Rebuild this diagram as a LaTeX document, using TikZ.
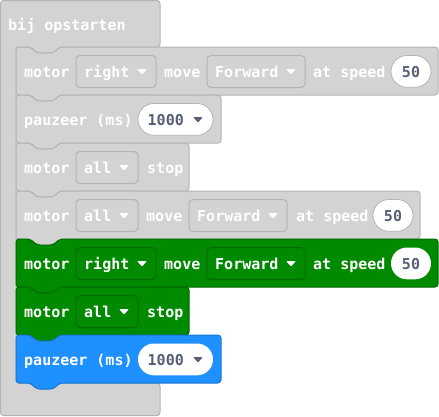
\documentclass[tikz,border=0pt]{standalone}
\usepackage{fontspec}
\newfontfamily\monof{DejaVu Sans Mono}
\definecolor{gfill}{HTML}{D3D3D3}
\definecolor{gline}{HTML}{B4B4B4}
\definecolor{grfill}{HTML}{008A00}
\definecolor{grline}{HTML}{006A00}
\definecolor{blfill}{HTML}{1E90FF}
\definecolor{blline}{HTML}{1A78D6}
\definecolor{numtxt}{HTML}{575E75}
\tikzset{
  lbl/.style={anchor=base west, inner sep=0pt, text=white, font=\monof\bfseries\fontsize{15}{18}\selectfont},
  numl/.style={lbl, text=numtxt},
  grayblk/.style={fill=gfill, draw=gline, line width=1pt, rounded corners=3pt},
  greenblk/.style={fill=grfill, draw=grline, line width=1pt, rounded corners=3pt},
  blueblk/.style={fill=blfill, draw=blline, line width=1pt, rounded corners=3pt},
  graydd/.style={fill=gfill, draw=gline, line width=1pt, rounded corners=4pt},
  greendd/.style={fill=grfill, draw=grline, line width=1pt, rounded corners=4pt},
  grayov/.style={fill=white, draw=gline, line width=0.8pt, rounded corners=15.9pt},
  plainov/.style={fill=white, draw=none, rounded corners=15.9pt},
}
% block: style, top, bottom, right
\newcommand\mkblock[4]{%
  \path[#1] (16,#2+20) -- (16,#2) -- (30,#2) -- (37,#2+6) -- (53,#2+6) -- (60,#2)
    -- (#4,#2) -- (#4,#3) -- (60,#3) -- (53,#3+6) -- (37,#3+6) -- (30,#3)
    -- (16,#3) -- cycle;}
% dropdown: name, x1, x2, centre, text, style
\newcommand\mkdd[6]{%
  \path[#6] (#2,#4-15.5) rectangle (#3,#4+16.5);
  \node[lbl] (#1) at (#2+8,#4+6.5) {#5};
  \fill[white, rounded corners=1pt] (#3-19,#4-2) -- (#3-9,#4-2) -- (#3-14,#4+3.5) -- cycle;}
% number oval: name, x1, x2, centre, text, style
\newcommand\mkov[6]{%
  \path[#6] (#2,#4-15.5) rectangle (#3,#4+16.3);
  \node[numl, anchor=base] (#1) at ({(#2+#3)/2},#4+6.5) {#5};}
% number oval with arrow: name, x1, x2, centre, text, style
\newcommand\mkova[6]{%
  \path[#6] (#2,#4-15.5) rectangle (#3,#4+16.3);
  \node[numl] (#1) at (#2+9.5,#4+6.5) {#5};
  \fill[numtxt, rounded corners=1pt] (#3-20,#4-2) -- (#3-10,#4-2) -- (#3-15,#4+3.5) -- cycle;}
\begin{document}
\begin{tikzpicture}[x=1pt,y=-1pt]
\useasboundingbox (0,0) rectangle (439,416);
% hat / C block
\path[grayblk] (0.5,20) -- (0.5,0.5) -- (160,0.5) -- (160,47) -- (60,47) -- (53,53) -- (37,53) -- (30,47)
  -- (16,47) -- (16,383) -- (30,383) -- (37,389) -- (53,389) -- (60,383) -- (160,383)
  -- (160,415.5) -- (0.5,415.5) -- cycle;
\node[lbl] (hat) at (8,30) {bij opstarten};

% block 1
\mkblock{grayblk}{47}{95}{438}
\node[lbl] (m1) at (24,77.5) {motor};
\mkdd{d1}{76}{156}{71}{right}{graydd}
\node[lbl] (mv1) at (164,77.5) {move};
\mkdd{f1}{207}{305}{71}{Forward}{graydd}
\node[lbl] (s1) at (313,77.5) {at speed};
\mkov{n1}{391}{431}{71}{50}{grayov}

% block 2
\mkblock{grayblk}{95}{143}{221}
\node[lbl] (p2) at (24,125.5) {pauzeer (ms)};
\mkova{n2}{138}{213}{119}{1000}{grayov}

% block 3
\mkblock{grayblk}{143}{191}{189}
\node[lbl] (m3) at (24,173.5) {motor};
\mkdd{d3}{76}{138}{167}{all}{graydd}
\node[lbl] (st3) at (147,173.5) {stop};

% block 4
\mkblock{grayblk}{191}{239}{420}
\node[lbl] (m4) at (24,221.5) {motor};
\mkdd{d4}{76}{138}{215}{all}{graydd}
\node[lbl] (mv4) at (146,221.5) {move};
\mkdd{f4}{189}{287}{215}{Forward}{graydd}
\node[lbl] (s4) at (296,221.5) {at speed};
\mkov{n4}{373}{413}{215}{50}{grayov}

% block 5 (green)
\mkblock{greenblk}{239}{287}{438}
\node[lbl] (m5) at (24,269.5) {motor};
\mkdd{d5}{76}{156}{263}{right}{greendd}
\node[lbl] (mv5) at (164,269.5) {move};
\mkdd{f5}{207}{305}{263}{Forward}{greendd}
\node[lbl] (s5) at (313,269.5) {at speed};
\mkov{n5}{391}{431}{263}{50}{plainov}

% block 6 (green)
\mkblock{greenblk}{287}{335}{189}
\node[lbl] (m6) at (24,317.5) {motor};
\mkdd{d6}{76}{138}{311}{all}{greendd}
\node[lbl] (st6) at (147,317.5) {stop};

% block 7 (blue)
\mkblock{blueblk}{335}{383}{221}
\node[lbl] (p7) at (24,365.5) {pauzeer (ms)};
\mkova{n7}{138}{213}{359}{1000}{plainov}
\end{tikzpicture}
\end{document}
